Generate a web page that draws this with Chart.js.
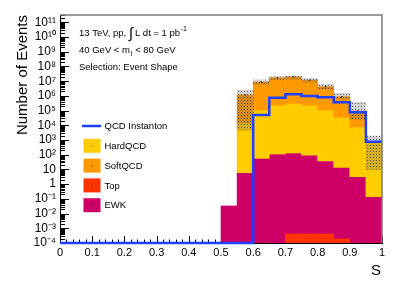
<!DOCTYPE html>
<html>
<head>
<meta charset="utf-8">
<script src="https://cdn.jsdelivr.net/npm/chart.js@4.4.1/dist/chart.umd.min.js"></script>
<style>
    body { margin: 0; background: #fff; }
    canvas { display: block; }
</style>
</head>
<body>
<canvas id="eventShapeChart" width="398" height="287"></canvas>
<script>
// 20 bins of S, width 0.05
const binEdges = [0, 0.05, 0.1, 0.15, 0.2, 0.25, 0.3, 0.35, 0.4, 0.45, 0.5, 0.55, 0.6, 0.65, 0.7, 0.75, 0.8, 0.85, 0.9, 0.95, 1.0];
const xTickValues = [0, 0.1, 0.2, 0.3, 0.4, 0.5, 0.6, 0.7, 0.8, 0.9, 1];
const yExponents = [-4, -3, -2, -1, 0, 1, 2, 3, 4, 5, 6, 7, 8, 9, 10, 11];

// stacked backgrounds, bottom to top: Top, EWK, HardQCD, SoftQCD
const topValues      = [0, 0, 0, 0, 0, 0, 0, 0, 0, 0, 0, 0, 0, 0, 4.1e-4, 4.1e-4, 4.1e-4, 1.9e-4, 0, 0];
const ewkValues      = [0, 0, 0, 0, 0, 0, 0, 0, 0, 0, 0.033, 6, 57, 112, 131, 92, 37.5, 14, 3.2, 0.14];
const hardQcdValues  = [0, 0, 0, 0, 0, 0, 0, 0, 0, 0, 0, 1.44e4, 1.1e5, 2.4e5, 3.1e5, 2.4e5, 1.1e5, 3.5e4, 7.7e3, 735];
const softQcdValues  = [0, 0, 0, 0, 0, 0, 0, 0, 0, 0, 0, 1.14e6, 8.7e6, 1.7e7, 1.9e7, 1.13e7, 4.1e6, 8.45e5, 8.6e4, 15];
const instantonValues = [0, 0, 0, 0, 0, 0, 0, 0, 0, 0, 0, 0, 5.0e4, 7.5e5, 1.29e6, 9.8e5, 8.0e5, 3.7e5, 7.7e4, 760];

// uncertainty band on the total
const bandLow  = [null, null, null, null, null, null, null, null, null, null, null, 4.8e3, 6.0e6, 1.3e7, 1.4e7, 8.8e6, 2.9e6, 6.2e5, 2.6e4, 10];
const bandHigh = [null, null, null, null, null, null, null, null, null, null, null, 2.5e6, 1.2e7, 2.0e7, 2.25e7, 1.57e7, 6.4e6, 1.5e6, 3.7e5, 1.9e3];

const Y_MIN = 1e-4;
const Y_MAX = Math.pow(10, 11.5);
const FONT = '"Liberation Sans", Arial, Helvetica, sans-serif';
const colors = {
    hard: '#ffcc00',
    soft: '#ff9900',
    top: '#ff3300',
    ewk: '#cc0066',
    inst: '#2040ff'
};

const binCenters = binEdges.slice(0, -1).map((e, i) => (e + binEdges[i + 1]) / 2);

function supText(n) {
    const map = { '-': '\u207B', '0': '\u2070', '1': '\u00B9', '2': '\u00B2', '3': '\u00B3', '4': '\u2074', '5': '\u2075', '6': '\u2076', '7': '\u2077', '8': '\u2078', '9': '\u2079' };
    return String(n).split('').map(c => map[c]).join('');
}

function hatchPattern() {
    const c = document.createElement('canvas');
    c.width = 3;
    c.height = 3;
    const g = c.getContext('2d');
    g.fillStyle = 'rgba(110,110,110,0.3)';
    g.fillRect(0, 0, 3, 3);
    g.fillStyle = 'rgba(50,50,50,0.7)';
    g.fillRect(1, 1, 1, 1);
    return g.createPattern(c, 'repeat');
}

// build floating bars from the stack (log axis cannot take 0, so the floor is the axis minimum)
function stackLayers(layers) {
    let base = binCenters.map(() => 0);
    return layers.map(values => {
        const data = binCenters.map((x, i) => ({
            x: x,
            y: values[i] > 0 ? [Math.max(base[i], Y_MIN), base[i] + values[i]] : null
        }));
        base = base.map((b, i) => b + values[i]);
        return data;
    });
}

const [topData, ewkData, hardData, softData] = stackLayers([topValues, ewkValues, hardQcdValues, softQcdValues]);
const totals = binCenters.map((x, i) => topValues[i] + ewkValues[i] + hardQcdValues[i] + softQcdValues[i]);

function barSet(label, data, color) {
    return {
        type: 'bar',
        label: label,
        data: data,
        backgroundColor: color,
        borderWidth: 0,
        grouped: false,
        barPercentage: 1,
        categoryPercentage: 1
    };
}

const decorations = {
    id: 'decorations',
    beforeDatasetsDraw(chart) {
        const ctx = chart.ctx;
        const xs = chart.scales.x, ys = chart.scales.y;
        const area = chart.chartArea;
        ctx.save();
        ctx.strokeStyle = '#000';
        ctx.lineWidth = 1;
        ctx.beginPath();
        for (let k = 0; k <= 50; k++) {
            const px = Math.round(xs.getPixelForValue(k * 0.02)) + 0.5;
            const len = k % 5 === 0 ? 7 : 3.5;
            ctx.moveTo(px, area.bottom);
            ctx.lineTo(px, area.bottom - len);
        }
        for (let e = -4; e <= 11; e++) {
            for (let m = 1; m <= 9; m++) {
                const v = m * Math.pow(10, e);
                if (v > ys.max) break;
                const py = Math.round(ys.getPixelForValue(v)) + 0.5;
                const len = m === 1 ? 9 : 5;
                ctx.moveTo(area.left, py);
                ctx.lineTo(area.left + len, py);
            }
        }
        ctx.stroke();
        ctx.restore();
    },
    afterDraw(chart) {
        const ctx = chart.ctx;
        const area = chart.chartArea;
        ctx.save();

        // frame
        ctx.strokeStyle = '#7a7a7a';
        ctx.lineWidth = 1.5;
        ctx.beginPath();
        ctx.moveTo(area.left, area.top);
        ctx.lineTo(area.right, area.top);
        ctx.lineTo(area.right, area.bottom);
        ctx.stroke();

        ctx.fillStyle = '#000';
        ctx.textBaseline = 'alphabetic';

        // axis titles
        ctx.font = '15px ' + FONT;
        ctx.textAlign = 'center';
        ctx.fillText('S', 376, 275);
        ctx.save();
        ctx.translate(27, area.top);
        ctx.rotate(-Math.PI / 2);
        ctx.textAlign = 'right';
        ctx.fillText('Number of Events', 0, 0);
        ctx.restore();

        // header text
        ctx.textAlign = 'left';
        let x = 79;
        ctx.font = '9.5px ' + FONT;
        ctx.fillText('13 TeV, pp, ', x, 36);
        x += ctx.measureText('13 TeV, pp, ').width;
        ctx.font = '15px ' + FONT;
        ctx.fillText('\u222B', x, 37.5);
        x += ctx.measureText('\u222B').width + 2;
        ctx.font = '9.5px ' + FONT;
        ctx.fillText('L dt = 1 pb', x, 36);
        x += ctx.measureText('L dt = 1 pb').width;
        ctx.font = '7px ' + FONT;
        ctx.fillText('-1', x + 0.5, 31);

        x = 79;
        ctx.font = '9.5px ' + FONT;
        ctx.fillText('40 GeV < m', x, 53);
        x += ctx.measureText('40 GeV < m').width;
        ctx.font = '7px ' + FONT;
        ctx.fillText('l', x + 0.5, 55.5);
        x += ctx.measureText('l').width + 1;
        ctx.font = '9.5px ' + FONT;
        ctx.fillText(' < 80 GeV', x, 53);

        ctx.fillText('Selection: Event Shape', 79, 70);

        // legend
        const rows = [
            { label: 'QCD Instanton', line: colors.inst },
            { label: 'HardQCD', fill: colors.hard },
            { label: 'SoftQCD', fill: colors.soft },
            { label: 'Top', fill: colors.top },
            { label: 'EWK', fill: colors.ewk }
        ];
        ctx.textBaseline = 'middle';
        rows.forEach((r, i) => {
            const cy = 126 + i * 19.8;
            if (r.line) {
                ctx.strokeStyle = r.line;
                ctx.lineWidth = 2.5;
                ctx.beginPath();
                ctx.moveTo(82, cy);
                ctx.lineTo(101, cy);
                ctx.stroke();
            } else {
                ctx.fillStyle = r.fill;
                ctx.fillRect(83.5, cy - 7, 17, 14);
                ctx.fillStyle = '#333';
                ctx.fillRect(91.5, cy - 0.5, 1, 1);
            }
            ctx.fillStyle = '#000';
            ctx.font = '9.5px ' + FONT;
            ctx.fillText(r.label, 104.5, cy + 0.5);
        });
        ctx.restore();
    }
};

function drawChart() {
    const ctx = document.getElementById('eventShapeChart');
    const pattern = hatchPattern();
    new Chart(ctx, {
        data: {
            datasets: [{
                type: 'line',
                label: 'QCD Instanton',
                data: binEdges.map((x, i) => {
                    const v = instantonValues[Math.min(i, instantonValues.length - 1)];
                    return { x: x, y: v > 0 ? v : Y_MIN };
                }),
                borderColor: colors.inst,
                borderWidth: 2.5,
                pointRadius: 0,
                stepped: 'before',
                fill: false,
                clip: false
            }, {
                type: 'scatter',
                label: 'total',
                data: binCenters.map((x, i) => ({ x: x, y: totals[i] })).filter(p => p.y > 1),
                pointRadius: 0.8,
                backgroundColor: '#222',
                borderWidth: 0
            }, {
                type: 'bar',
                label: 'uncertainty',
                data: binCenters.map((x, i) => ({ x: x, y: bandLow[i] === null ? null : [bandLow[i], bandHigh[i]] })),
                backgroundColor: pattern,
                borderWidth: 0,
                grouped: false,
                barPercentage: 1,
                categoryPercentage: 1
            },
            barSet('SoftQCD', softData, colors.soft),
            barSet('HardQCD', hardData, colors.hard),
            barSet('Top', topData, colors.top),
            barSet('EWK', ewkData, colors.ewk)]
        },
        options: {
            responsive: false,
            animation: false,
            devicePixelRatio: 1,
            layout: { padding: { top: 15, right: 16, left: 0, bottom: 0 } },
            plugins: { legend: { display: false }, tooltip: { enabled: false } },
            scales: {
                x: {
                    type: 'linear',
                    min: 0,
                    max: 1,
                    offset: false,
                    afterBuildTicks: s => { s.ticks = xTickValues.map(v => ({ value: v })); },
                    afterFit: s => { s.height = 44; },
                    grid: { display: false, drawTicks: false },
                    border: { color: '#000', width: 1 },
                    ticks: {
                        autoSkip: false,
                        maxRotation: 0,
                        padding: 3,
                        color: '#000',
                        font: { family: FONT, size: 11 },
                        callback: v => String(v)
                    }
                },
                y: {
                    type: 'logarithmic',
                    min: Y_MIN,
                    max: Y_MAX,
                    afterBuildTicks: s => { s.ticks = yExponents.map(e => ({ value: Math.pow(10, e) })); },
                    afterFit: s => { s.width = 60; },
                    grid: { display: false, drawTicks: false },
                    border: { color: '#000', width: 1 },
                    ticks: {
                        autoSkip: false,
                        padding: 4,
                        color: '#000',
                        font: { family: FONT, size: 12 },
                        callback: v => {
                            const e = Math.round(Math.log10(v));
                            if (e === 0) return '1';
                            if (e === 1) return '10';
                            return '10' + supText(e);
                        }
                    }
                }
            }
        },
        plugins: [decorations]
    });
}

drawChart();
</script>
</body>
</html>
